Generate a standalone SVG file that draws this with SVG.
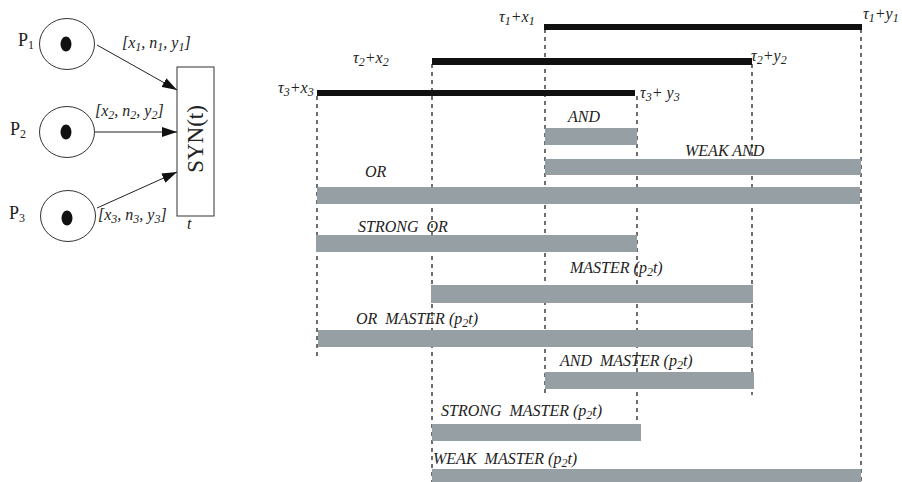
<svg xmlns="http://www.w3.org/2000/svg" width="902" height="482" viewBox="0 0 902 482">
<style>
.lbl{font-family:"Liberation Serif",serif;font-style:italic;font-size:16px;fill:#222}
.tl{font-family:"Liberation Serif",serif;font-style:italic;font-size:16px;fill:#222}
.p{font-family:"Liberation Serif",serif;font-size:18px;fill:#222}
.place{fill:#fff;stroke:#333;stroke-width:1}
.tok{fill:#111}
.dash{stroke:#222;stroke-width:1.3;stroke-dasharray:4,4;fill:none}
.black{fill:#111}
.gray{fill:#969fa3}
.arc{stroke:#222;stroke-width:1;fill:none}
</style>
<defs>
<marker id="ah" markerUnits="userSpaceOnUse" markerWidth="15" markerHeight="10" refX="15" refY="5" orient="auto">
<path d="M0,0 L15,5 L0,10 z" fill="#111"/>
</marker>
</defs>
<rect width="902" height="482" fill="#fff"/>

<!-- Petri net -->
<g id="P1">
<ellipse class="place" cx="67" cy="44" rx="27.5" ry="25.5"/>
<ellipse class="tok" cx="66" cy="44" rx="5.5" ry="7.5"/>
<text class="p" x="18" y="46">P<tspan font-size="12" dy="3">1</tspan></text>
</g>
<g id="P2">
<ellipse class="place" cx="67" cy="132" rx="27.5" ry="25.5"/>
<ellipse class="tok" cx="66" cy="132" rx="5.5" ry="7.5"/>
<text class="p" x="10" y="135">P<tspan font-size="12" dy="3">2</tspan></text>
</g>
<g id="P3">
<ellipse class="place" cx="68" cy="216" rx="27.5" ry="25.5"/>
<ellipse class="tok" cx="67" cy="218" rx="5.5" ry="7.5"/>
<text class="p" x="9" y="219">P<tspan font-size="12" dy="3">3</tspan></text>
</g>
<g id="SYN">
<rect x="177" y="67" width="37" height="149" fill="#fff" stroke="#333" stroke-width="1"/>
<text font-family="Liberation Serif,serif" font-size="23" fill="#222" text-anchor="middle" transform="translate(203,139) rotate(-90)">SYN(t)</text>
<text class="lbl" x="187" y="229">t</text>
</g>

<g id="arcs">
<line class="arc" x1="97" y1="45" x2="177" y2="90" marker-end="url(#ah)"/>
<line class="arc" x1="95" y1="132" x2="177" y2="132" stroke-width="3" marker-end="url(#ah)"/>
<line class="arc" x1="97" y1="208" x2="177" y2="172" marker-end="url(#ah)"/>
<text class="lbl" x="122" y="48">[x<tspan font-size="12" dy="3">1</tspan><tspan dy="-3">, n</tspan><tspan font-size="12" dy="3">1</tspan><tspan dy="-3">, y</tspan><tspan font-size="12" dy="3">1</tspan><tspan dy="-3">]</tspan></text>
<text class="lbl" x="95" y="116">[x<tspan font-size="12" dy="3">2</tspan><tspan dy="-3">, n</tspan><tspan font-size="12" dy="3">2</tspan><tspan dy="-3">, y</tspan><tspan font-size="12" dy="3">2</tspan><tspan dy="-3">]</tspan></text>
<text class="lbl" x="98" y="220">[x<tspan font-size="12" dy="3">3</tspan><tspan dy="-3">, n</tspan><tspan font-size="12" dy="3">3</tspan><tspan dy="-3">, y</tspan><tspan font-size="12" dy="3">3</tspan><tspan dy="-3">]</tspan></text>
</g>

<!-- Timeline dashed guides -->
<g id="guides">
<line class="dash" x1="317" y1="96" x2="317" y2="358"/>
<line class="dash" x1="432" y1="64" x2="432" y2="482"/>
<line class="dash" x1="545" y1="29" x2="545" y2="397"/>
<line class="dash" x1="637" y1="96" x2="637" y2="424"/>
<line class="dash" x1="752" y1="64" x2="752" y2="395"/>
<line class="dash" x1="861" y1="29" x2="861" y2="482"/>
</g>

<!-- Input intervals -->
<g id="interval1">
<rect class="black" x="544" y="24" width="318" height="6"/>
<text class="tl" x="499" y="22">τ<tspan font-size="12" dy="3">1</tspan><tspan dy="-3">+x</tspan><tspan font-size="12" dy="3">1</tspan></text>
<text class="tl" x="863" y="19">τ<tspan font-size="12" dy="3">1</tspan><tspan dy="-3">+y</tspan><tspan font-size="12" dy="3">1</tspan></text>
</g>
<g id="interval2">
<rect class="black" x="432" y="58" width="320" height="7"/>
<text class="tl" x="353" y="63">τ<tspan font-size="12" dy="3">2</tspan><tspan dy="-3">+x</tspan><tspan font-size="12" dy="3">2</tspan></text>
<text class="tl" x="751" y="61">τ<tspan font-size="12" dy="3">2</tspan><tspan dy="-3">+y</tspan><tspan font-size="12" dy="3">2</tspan></text>
</g>
<g id="interval3">
<rect class="black" x="317" y="90" width="318" height="6"/>
<text class="tl" x="278" y="93">τ<tspan font-size="12" dy="3">3</tspan><tspan dy="-3">+x</tspan><tspan font-size="12" dy="3">3</tspan></text>
<text class="tl" x="640" y="98">τ<tspan font-size="12" dy="3">3</tspan><tspan dy="-3">+ y</tspan><tspan font-size="12" dy="3">3</tspan></text>
</g>

<!-- Result intervals -->
<g id="AND">
<rect class="gray" x="545" y="128" width="92" height="17"/>
<text class="lbl" x="568" y="122">AND</text>
</g>
<g id="WEAK_AND">
<rect class="gray" x="545" y="159" width="316" height="16"/>
<text class="lbl" x="685" y="156">WEAK AND</text>
</g>
<g id="OR">
<rect class="gray" x="317" y="187" width="543" height="17"/>
<text class="lbl" x="365" y="177">OR</text>
</g>
<g id="STRONG_OR">
<rect class="gray" x="316" y="235" width="321" height="17"/>
<text class="lbl" x="358" y="232" xml:space="preserve">STRONG  OR</text>
</g>
<g id="MASTER">
<rect class="gray" x="431" y="285" width="322" height="18"/>
<text class="lbl" x="570" y="273">MASTER (p<tspan font-size="12" dy="3">2</tspan><tspan dy="-3">t)</tspan></text>
</g>
<g id="OR_MASTER">
<rect class="gray" x="318" y="330" width="435" height="17"/>
<text class="lbl" x="356" y="324" xml:space="preserve">OR  MASTER (p<tspan font-size="12" dy="3">2</tspan><tspan dy="-3">t)</tspan></text>
</g>
<g id="AND_MASTER">
<rect class="gray" x="545" y="372" width="209" height="17"/>
<text class="lbl" x="560" y="366" xml:space="preserve">AND  MASTER (p<tspan font-size="12" dy="3">2</tspan><tspan dy="-3">t)</tspan></text>
</g>
<g id="STRONG_MASTER">
<rect class="gray" x="432" y="424" width="209" height="17"/>
<text class="lbl" x="441" y="416" xml:space="preserve">STRONG  MASTER (p<tspan font-size="12" dy="3">2</tspan><tspan dy="-3">t)</tspan></text>
</g>
<g id="WEAK_MASTER">
<rect class="gray" x="432" y="469" width="429" height="13"/>
<text class="lbl" x="433" y="464" xml:space="preserve">WEAK  MASTER (p<tspan font-size="12" dy="3">2</tspan><tspan dy="-3">t)</tspan></text>
</g>
</svg>
